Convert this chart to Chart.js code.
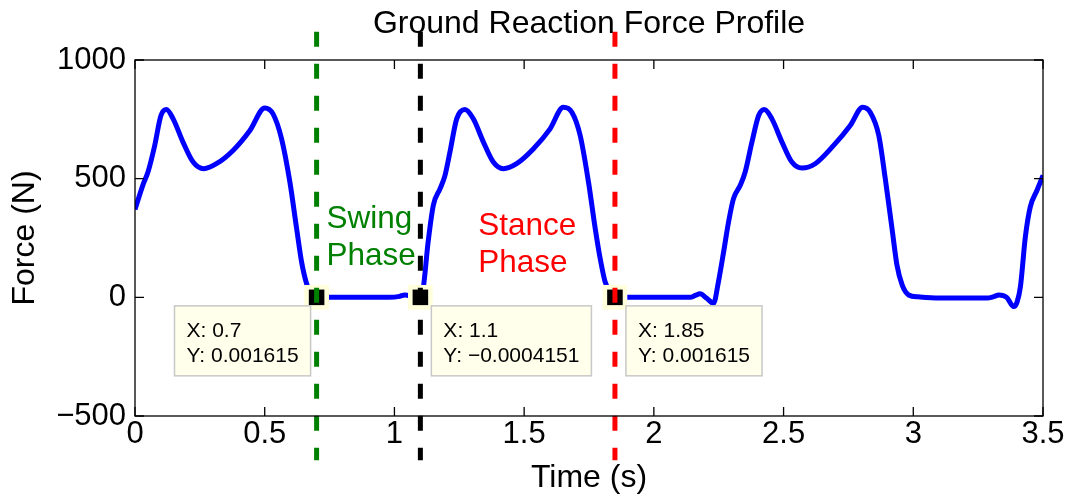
<!DOCTYPE html>
<html>
<head>
<meta charset="utf-8">
<script src="https://cdn.jsdelivr.net/npm/chart.js@4.4.1/dist/chart.umd.min.js"></script>
<style>
  html, body { margin: 0; padding: 0; background: #fff; }
  #wrap { width: 1073px; height: 503px; }
</style>
</head>
<body>
<div id="wrap"><canvas id="grf" width="1073" height="503"></canvas></div>
<script>
// force samples: time (s) and force (N)
const timeS = [
  0.0, 0.03, 0.05, 0.076, 0.10, 0.121, 0.147, 0.185, 0.224, 0.265, 0.314, 0.378, 0.443, 0.50,
  0.532, 0.565, 0.597, 0.623, 0.642, 0.661, 0.68, 0.70, 0.80, 0.90, 0.98, 1.02, 1.04, 1.06,
  1.08, 1.10, 1.111, 1.13, 1.15, 1.176, 1.195, 1.214, 1.24, 1.272, 1.304, 1.343, 1.381, 1.42,
  1.471, 1.536, 1.60, 1.651, 1.684, 1.716, 1.748, 1.774, 1.793, 1.812, 1.831, 1.85, 1.95, 2.05,
  2.14, 2.16, 2.178, 2.204, 2.23, 2.249, 2.269, 2.288, 2.307, 2.333, 2.352, 2.378, 2.404, 2.426,
  2.455, 2.494, 2.532, 2.571, 2.622, 2.693, 2.757, 2.805, 2.834, 2.867, 2.892, 2.918, 2.937,
  2.957, 2.982, 3.02, 3.10, 3.20, 3.285, 3.31, 3.33, 3.36, 3.387, 3.40, 3.413, 3.432, 3.451,
  3.477, 3.50
];
const forceN = [
  370, 472, 528, 640, 766, 791, 752, 654, 570, 542, 563, 619, 703, 798,
  773, 668, 486, 290, 150, 59, 10, 0.001615, 0, 0, 0, 4, 10, 6,
  -2, -0.0004151, 38, 234, 388, 458, 514, 612, 752, 791, 752, 654, 570, 542,
  563, 626, 710, 801, 780, 682, 486, 290, 164, 66, 24, 0.001615, 0, 0,
  0, 8, 15, -4, -25, 66, 192, 318, 416, 472, 528, 654, 766, 791,
  752, 654, 570, 545, 563, 640, 724, 801, 780, 682, 500, 290, 136,
  52, 10, 2, -3, -3, -3, 3, 10, 0, -39, -20, 45, 255, 381,
  451, 514
];

// axis ranges / tick steps
const xRange = [0, 3.5];
const yRange = [-500, 1000];
const xStep = 0.5;
const yStep = 500;

// gait events (vertical dashed lines)
const eventTimes = [0.7, 1.1, 1.85];
const eventColors = ['#008000', '#000000', '#ff0000'];

// data tips
const tipX = [0.7, 1.1, 1.85];
const tipY = [0.001615, -0.0004151, 0.001615];

// phase labels
const phaseText = [['Swing', 'Phase'], ['Stance', 'Phase']];
const phaseColors = ['#008000', '#ff0000'];

const chartTitle = 'Ground Reaction Force Profile';

const FONT = '"Liberation Sans", Arial, Helvetica, sans-serif';
const fmt = v => String(v).replace('-', '\u2212');

const curve = timeS.map((t, i) => ({ x: t, y: forceN[i] }));

const eventSets = eventTimes.map((t, i) => ({
    data: [{ x: t, y: 1119 }, { x: t, y: -686 }],
    borderColor: eventColors[i],
    borderWidth: 5,
    borderDash: [15, 17],
    borderCapStyle: 'butt',
    pointRadius: 0,
    clip: false,
    order: 0,
}));

// box, inward ticks, title, data tips and phase text
const matlabAxes = {
    id: 'matlabAxes',
    afterDatasetsDraw(chart, args, opts) {
        const { ctx, chartArea: a, scales } = chart;
        const xs = scales.x, ys = scales.y;
        ctx.save();

        ctx.strokeStyle = '#000';
        ctx.lineWidth = 1.3;
        ctx.strokeRect(a.left, a.top, a.right - a.left, a.bottom - a.top);
        const tl = 9;
        ctx.beginPath();
        xs.ticks.forEach(t => {
            const px = xs.getPixelForValue(t.value);
            ctx.moveTo(px, a.bottom); ctx.lineTo(px, a.bottom - tl);
            ctx.moveTo(px, a.top); ctx.lineTo(px, a.top + tl);
        });
        ys.ticks.forEach(t => {
            const py = ys.getPixelForValue(t.value);
            ctx.moveTo(a.left, py); ctx.lineTo(a.left + tl, py);
            ctx.moveTo(a.right, py); ctx.lineTo(a.right - tl, py);
        });
        ctx.stroke();

        // title centred over the axes
        ctx.fillStyle = '#000';
        ctx.font = '32px ' + FONT;
        ctx.textAlign = 'center';
        ctx.textBaseline = 'middle';
        ctx.fillText(chartTitle, (a.left + a.right) / 2, 24);

        // data tips
        ctx.font = '21px ' + FONT;
        ctx.textBaseline = 'alphabetic';
        ctx.textAlign = 'left';
        tipX.forEach((tx, i) => {
            const px = xs.getPixelForValue(tx);
            const py = ys.getPixelForValue(tipY[i]);
            const lines = ['X: ' + fmt(tx), 'Y: ' + fmt(tipY[i])];
            const w = Math.max(...lines.map(s => ctx.measureText(s).width)) + 24;
            const h = 70;
            const left = opts.tipSide[i] === 'left' ? px - 6 - w : px + 11;
            const top = py + 8.5;
            ctx.fillStyle = 'rgb(255,255,235)';
            ctx.fillRect(left, top, w, h);
            ctx.strokeStyle = '#c8c8c8';
            ctx.lineWidth = 1.5;
            ctx.strokeRect(left, top, w, h);
            ctx.fillStyle = '#000';
            ctx.fillText(lines[0], left + 12, top + 31);
            ctx.fillText(lines[1], left + 12, top + 56);
        });

        // phase labels
        ctx.font = '31.5px ' + FONT;
        phaseText.forEach((lines, i) => {
            const px = xs.getPixelForValue(opts.phaseAt[i][0]);
            const py = ys.getPixelForValue(opts.phaseAt[i][1]);
            ctx.fillStyle = phaseColors[i];
            lines.forEach((s, j) => ctx.fillText(s, px, py + j * 37));
        });
        ctx.restore();
    }
};

new Chart(document.getElementById('grf'), {
    type: 'line',
    data: {
        datasets: [
            ...eventSets,
            {
                data: tipX.map((x, i) => ({ x, y: tipY[i] })),
                showLine: false,
                pointStyle: 'rect',
                pointRadius: 11,
                pointBorderWidth: 0,
                pointBackgroundColor: '#000',
                order: 1,
            },
            {
                data: tipX.map((x, i) => ({ x, y: tipY[i] })),
                showLine: false,
                pointStyle: 'rect',
                pointRadius: 17.5,
                pointBorderWidth: 0,
                pointBackgroundColor: 'rgb(255,255,220)',
                order: 2,
            },
            {
                data: curve,
                borderColor: '#0000ff',
                borderWidth: 5,
                pointRadius: 0,
                cubicInterpolationMode: 'monotone',
                order: 3,
            },
        ],
    },
    options: {
        responsive: false,
        animation: false,
        devicePixelRatio: 1,
        layout: { padding: { left: 0, right: 30, top: 60, bottom: 0 } },
        plugins: {
            legend: { display: false },
            tooltip: { enabled: false },
            title: { display: false },
            matlabAxes: {
                tipSide: ['left', 'right', 'right'],
                phaseAt: [[0.738, 292], [1.323, 262]],
            },
        },
        scales: {
            x: {
                type: 'linear',
                min: xRange[0],
                max: xRange[1],
                grid: { display: false, drawTicks: false },
                border: { display: false },
                ticks: {
                    stepSize: xStep,
                    padding: 0,
                    color: '#000',
                    maxRotation: 0,
                    font: { family: FONT, size: 31 },
                    callback: v => fmt(Math.round(v * 100) / 100),
                },
                title: {
                    display: true,
                    text: 'Time (s)',
                    color: '#000',
                    font: { family: FONT, size: 32 },
                    padding: { top: 0, bottom: 6 },
                },
                afterFit: s => { s.height = 87; },
            },
            y: {
                min: yRange[0],
                max: yRange[1],
                grid: { display: false, drawTicks: false },
                border: { display: false },
                ticks: {
                    stepSize: yStep,
                    padding: 9,
                    color: '#000',
                    font: { family: FONT, size: 31 },
                    callback: v => fmt(v),
                },
                title: {
                    display: true,
                    text: 'Force (N)',
                    color: '#000',
                    font: { family: FONT, size: 32 },
                    padding: { top: 6, bottom: 0 },
                },
                afterFit: s => { s.width = 135; },
            },
        },
    },
    plugins: [matlabAxes],
});
</script>
</body>
</html>
